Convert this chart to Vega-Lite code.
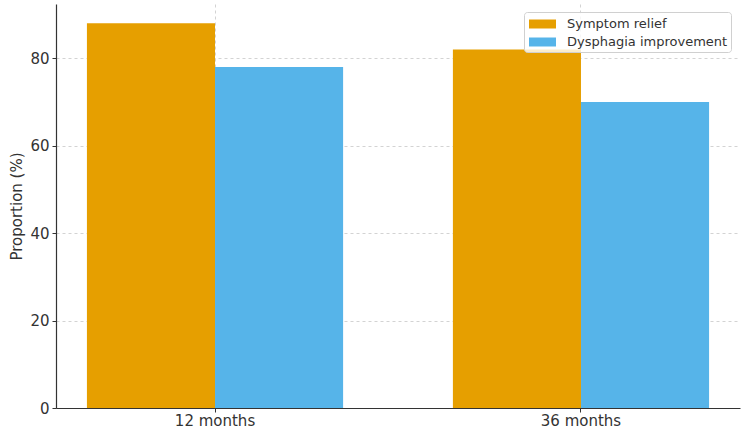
{
  "$schema": "https://vega.github.io/schema/vega-lite/v6.json",
  "autosize": {"type": "none"},
  "width": 684,
  "height": 404,
  "padding": {"left": 56, "top": 4, "right": 10, "bottom": 29},
  "background": "white",
  "data": {
    "values": [
      {"period": "12 months", "measure": "Symptom relief", "value": 88},
      {"period": "12 months", "measure": "Dysphagia improvement", "value": 78},
      {"period": "36 months", "measure": "Symptom relief", "value": 82},
      {"period": "36 months", "measure": "Dysphagia improvement", "value": 70}
    ]
  },
  "mark": {"type": "bar"},
  "encoding": {
    "x": {
      "field": "period",
      "type": "nominal",
      "sort": ["12 months", "36 months"],
      "scale": {"paddingInner": 0.3, "paddingOuter": 0.0845},
      "axis": {
        "title": null,
        "labelAngle": 0,
        "grid": true,
        "labelFontSize": 15,
        "labelPadding": 1,
        "tickSize": 4
      }
    },
    "xOffset": {
      "field": "measure",
      "type": "nominal",
      "sort": ["Symptom relief", "Dysphagia improvement"],
      "scale": {"paddingInner": 0, "paddingOuter": 0}
    },
    "y": {
      "field": "value",
      "type": "quantitative",
      "scale": {"domain": [0, 92.4], "nice": false, "zero": true},
      "axis": {
        "title": "Proportion (%)",
        "values": [0, 20, 40, 60, 80],
        "grid": true,
        "labelFontSize": 15,
        "tickSize": 4,
        "labelPadding": 3,
        "titleFontSize": 15,
        "titlePadding": 5
      }
    },
    "color": {
      "field": "measure",
      "type": "nominal",
      "scale": {
        "domain": ["Symptom relief", "Dysphagia improvement"],
        "range": ["#E69F00", "#56B4E9"]
      },
      "legend": {
        "title": null,
        "orient": "none",
        "legendX": 468,
        "legendY": 8,
        "symbolType": "M-1,-0.5H2V0.5H-1Z",
        "symbolSize": 324,
        "symbolStrokeWidth": 0,
        "symbolOffset": 2,
        "labelFontSize": 13,
        "labelOffset": 20,
        "labelLimit": 300,
        "rowPadding": 2,
        "padding": 3,
        "strokeColor": "#d0d0d0",
        "fillColor": "rgba(255,255,255,0.8)",
        "cornerRadius": 3
      }
    }
  },
  "config": {
    "view": {"stroke": null},
    "font": "DejaVu Sans",
    "axis": {
      "labelColor": "#333333",
      "titleColor": "#333333",
      "titleFontWeight": "normal",
      "labelFont": "DejaVu Sans",
      "titleFont": "DejaVu Sans",
      "domainColor": "#333333",
      "domainWidth": 1.2,
      "tickColor": "#333333",
      "gridColor": "#c8c8c8",
      "gridDash": [3, 3],
      "gridWidth": 0.8
    },
    "legend": {
      "labelColor": "#333333",
      "labelFont": "DejaVu Sans"
    }
  }
}
